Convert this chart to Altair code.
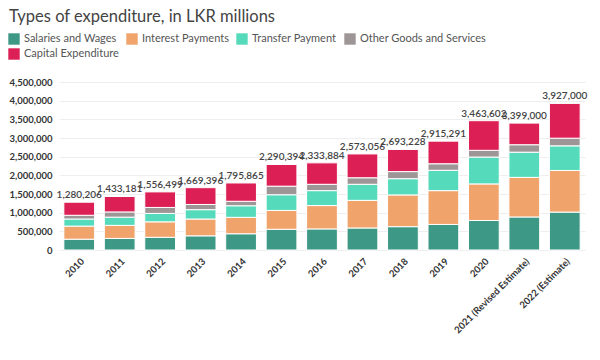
import altair as alt
import pandas as pd

years = ["2010", "2011", "2012", "2013", "2014", "2015", "2016", "2017", "2018",
         "2019", "2020", "2021 (Revised Estimate)", "2022 (Estimate)"]
series = ["Salaries and Wages", "Interest Payments", "Transfer Payment",
          "Other Goods and Services", "Capital Expenditure"]
colors = ["#3d9985", "#f0a46c", "#55dbbb", "#9e9696", "#dc1f55"]

salaries = [290000, 310000, 340000, 380000, 435000, 555000, 565000, 590000, 625000, 685000, 790000, 885000, 1015000]
interest = [350000, 350000, 415000, 450000, 440000, 505000, 625000, 740000, 850000, 905000, 980000, 1060000, 1115000]
transfer = [190000, 220000, 225000, 250000, 310000, 420000, 400000, 430000, 435000, 545000, 720000, 675000, 660000]
other = [100000, 140000, 160000, 140000, 120000, 230000, 170000, 175000, 190000, 175000, 180000, 200000, 205000]
totals = [1280206, 1433181, 1556499, 1669396, 1795865, 2290394, 2333884, 2573056, 2693228, 2915291, 3463602, 3399000, 3927000]
capital = [t - s - i - tr - o for t, s, i, tr, o in zip(totals, salaries, interest, transfer, other)]
y_ticks = [0, 500000, 1000000, 1500000, 2000000, 2500000, 3000000, 3500000, 4000000, 4500000]

rows = []
for k, (name, vals) in enumerate(zip(series, [salaries, interest, transfer, other, capital])):
    for y, v in zip(years, vals):
        rows.append({"year": y, "type": name, "value": v, "idx": k})
df = pd.DataFrame(rows)
tot_df = pd.DataFrame({"year": years, "value": totals})

FONT = "Lato"

x_axis = alt.Axis(labelAngle=-45, labelAlign="right", labelBaseline="top",
                  labelFontWeight="bold", labelFontSize=9.5, labelColor="#333",
                  ticks=False, domain=False, labelPadding=6)
x_scale = alt.Scale(paddingInner=0.24, paddingOuter=0.12)
y_axis = alt.Axis(values=y_ticks, format=",d", tickCount=10,
                  labelFontWeight="bold", labelFontSize=9.5, labelColor="#333",
                  labelOverlap=False,
                  ticks=False, domain=False, gridColor="#eeeeee", labelPadding=7)
y_scale = alt.Scale(domain=[0, 4500000], nice=False)

bars = alt.Chart(df).mark_bar(stroke="white", strokeWidth=1).encode(
    x=alt.X("year:N", sort=years, title=None, axis=x_axis, scale=x_scale),
    y=alt.Y("value:Q", title=None, stack="zero", scale=y_scale, axis=y_axis),
    color=alt.Color("type:N", sort=series,
                    scale=alt.Scale(domain=series, range=colors),
                    legend=alt.Legend(orient="none", legendX=-51, legendY=-49,
                                      title=None, direction="horizontal",
                                      columns=4, gridAlign="none", symbolType="square", symbolSize=130,
                                      symbolStrokeWidth=0, labelFontSize=11, labelColor="#555",
                                      labelFont=FONT, rowPadding=3, columnPadding=7,
                                      labelOffset=4, labelLimit=300)),
    order=alt.Order("idx:Q", sort="ascending"),
)

labels = alt.Chart(tot_df).mark_text(dy=-7, fontSize=10, fontWeight=600, color="#444", font=FONT).encode(
    x=alt.X("year:N", sort=years, title=None, axis=x_axis, scale=x_scale),
    y=alt.Y("value:Q", title=None, scale=y_scale, axis=y_axis),
    text=alt.Text("value:Q", format=",d"),
)

chart = alt.layer(bars, labels).properties(
    width=584, height=344,
    autosize=alt.AutoSizeParams(type="fit", contains="padding"),
    padding={"left": 0, "top": 0, "right": 6, "bottom": 17},
    title=alt.TitleParams("Types of expenditure, in LKR millions", anchor="start", frame="bounds",
                          fontSize=16.5, fontWeight="normal", color="#444", font=FONT,
                          offset=52),
).configure(font=FONT).configure_view(stroke=None).configure_axis(labelFont=FONT)

chart.save("out.html", embed_options={"renderer": "svg", "actions": False})
